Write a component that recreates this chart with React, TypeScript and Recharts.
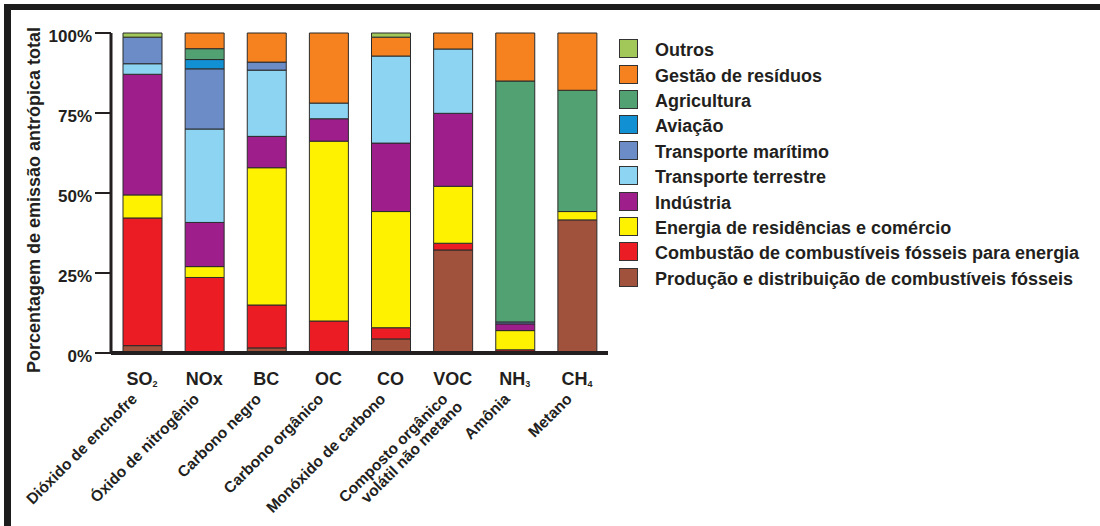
import React from 'react';
import { BarChart, Bar, XAxis, YAxis, Legend } from 'recharts';

const categories = ['SO2', 'NOx', 'BC', 'OC', 'CO', 'VOC', 'NH3', 'CH4'];
const formulaMain = ['SO', 'NOx', 'BC', 'OC', 'CO', 'VOC', 'NH', 'CH'];
const formulaSub = ['2', '', '', '', '', '', '3', '4'];
const fullNames: string[][] = [
  ['Dióxido de enchofre'],
  ['Óxido de nitrogênio'],
  ['Carbono negro'],
  ['Carbono orgânico'],
  ['Monóxido de carbono'],
  ['Composto orgânico', 'volátil não metano'],
  ['Amônia'],
  ['Metano'],
];

// stacked series, bottom to top
const producao = [2.3, 0, 1.6, 0, 4.4, 32.2, 0, 41.6];
const combustao = [39.9, 23.6, 13.4, 10.0, 3.5, 2.1, 1.0, 0];
const energia = [7.2, 3.4, 42.9, 56.2, 36.3, 17.8, 6.0, 2.6];
const industria = [37.7, 13.8, 9.8, 7.0, 21.4, 22.8, 2.1, 0];
const terrestre = [3.3, 29.2, 20.7, 4.9, 27.2, 20.1, 0, 0];
const maritimo = [8.3, 18.8, 2.5, 0, 0, 0, 0.6, 0];
const aviacao = [0, 2.9, 0, 0, 0, 0, 0, 0];
const agricultura = [0, 3.4, 0, 0, 0, 0, 75.3, 37.9];
const gestao = [0, 4.9, 9.1, 21.9, 5.9, 5.0, 15.0, 17.9];
const outros = [1.3, 0, 0, 0, 1.3, 0, 0, 0];

const yTicks = [0, 25, 50, 75, 100];

const series = [
  { key: 'producao', name: 'Produção e distribuição de combustíveis fósseis', color: '#a0523d', values: producao },
  { key: 'combustao', name: 'Combustão de combustíveis fósseis para energia', color: '#ec1c24', values: combustao },
  { key: 'energia', name: 'Energia de residências e comércio', color: '#fff200', values: energia },
  { key: 'industria', name: 'Indústria', color: '#9e1f8c', values: industria },
  { key: 'terrestre', name: 'Transporte terrestre', color: '#8dd4f3', values: terrestre },
  { key: 'maritimo', name: 'Transporte marítimo', color: '#6b8cc7', values: maritimo },
  { key: 'aviacao', name: 'Aviação', color: '#1190d3', values: aviacao },
  { key: 'agricultura', name: 'Agricultura', color: '#52a173', values: agricultura },
  { key: 'gestao', name: 'Gestão de resíduos', color: '#f5821f', values: gestao },
  { key: 'outros', name: 'Outros', color: '#a2c85a', values: outros },
];

const data = categories.map((c, i) => {
  const row: Record<string, any> = { cat: c, idx: i };
  series.forEach((s) => {
    row[s.key] = s.values[i];
  });
  return row;
});

const FONT = '"Liberation Sans", Arial, Helvetica, sans-serif';
const INK = '#231f20';

const XTick = (props: any) => {
  const { x, y, payload } = props;
  const i = categories.indexOf(payload.value);
  const lines = fullNames[i];
  return (
    <g>
      <text x={x} y={y + 32} textAnchor="middle" fontFamily={FONT} fontWeight="bold" fontSize={18} fill={INK}>
        {formulaMain[i]}
        {formulaSub[i] ? (
          <tspan fontSize={9} dy={2}>
            {formulaSub[i]}
          </tspan>
        ) : null}
      </text>
      <text
        transform={`translate(${x - 4},${y + 47}) rotate(-45)`}
        textAnchor="end"
        fontFamily={FONT}
        fontWeight="bold"
        fontSize={15.5}
        fill={INK}
      >
        {lines.map((l, k) => (
          <tspan key={k} x={k === 0 ? 0 : 5} dy={k === 0 ? 0 : 16}>
            {l}
          </tspan>
        ))}
      </text>
    </g>
  );
};

const YTick = (props: any) => {
  const { x, y, payload } = props;
  return (
    <text x={x} y={y + 9} textAnchor="end" fontFamily={FONT} fontWeight="bold" fontSize={17} fill={INK}>
      {`${payload.value}%`}
    </text>
  );
};

const legendItems = [...series].reverse();

const LegendBox = () => (
  <div style={{ fontFamily: FONT, fontWeight: 'bold', fontSize: 18, color: INK }}>
    {legendItems.map((s) => (
      <div key={s.key} style={{ display: 'flex', alignItems: 'center', height: 25.4 }}>
        <div
          style={{
            width: 19,
            height: 19,
            background: s.color,
            border: '1px solid #333',
            boxSizing: 'border-box',
            marginRight: 17,
            flex: 'none',
          }}
        />
        <span style={{ position: 'relative', top: 2, whiteSpace: 'nowrap' }}>{s.name}</span>
      </div>
    ))}
  </div>
);

export default function App() {
  return (
    <div style={{ position: 'fixed', left: 0, top: 0, width: 1100, height: 526, background: '#fff', overflow: 'hidden' }}>
      <div style={{ position: 'absolute', left: 4, top: 4, width: 1096, height: 6, background: '#1c1c1c' }} />
      <div style={{ position: 'absolute', left: 4, top: 4, width: 7, height: 522, background: '#1c1c1c' }} />
      <div style={{ position: 'absolute', left: 0, top: 0 }}>
        <BarChart
          width={1100}
          height={526}
          data={data}
          margin={{ top: 33, right: 492, bottom: 143, left: 51 }}
          barSize={39}
        >
          <XAxis
            dataKey="cat"
            height={30}
            interval={0}
            tickLine={false}
            tickSize={0}
            tickMargin={0}
            axisLine={{ stroke: INK, strokeWidth: 4 }}
            tick={<XTick />}
          />
          <YAxis
            width={60}
            domain={[0, 100]}
            ticks={yTicks}
            interval={0}
            tickSize={16}
            tickMargin={3}
            axisLine={{ stroke: INK, strokeWidth: 3 }}
            tickLine={{ stroke: INK, strokeWidth: 2 }}
            tick={<YTick />}
            label={{
              content: () => (
                <text
                  transform="translate(40,200) rotate(-90)"
                  textAnchor="middle"
                  fontFamily={FONT}
                  fontWeight="bold"
                  fontSize={18}
                  fill={INK}
                >
                  Porcentagem de emissão antrópica total
                </text>
              ),
            }}
          />
          <Legend
            layout="vertical"
            align="center"
            verticalAlign="middle"
            content={() => <LegendBox />}
            wrapperStyle={{ position: 'absolute', left: 619, top: 36, width: 480, height: 260 }}
          />
          {series.map((s) => (
            <Bar
              key={s.key}
              dataKey={s.key}
              name={s.name}
              stackId="a"
              fill={s.color}
              stroke="#2b2b2b"
              strokeWidth={1}
              isAnimationActive={false}
            />
          ))}
        </BarChart>
      </div>
    </div>
  );
}
